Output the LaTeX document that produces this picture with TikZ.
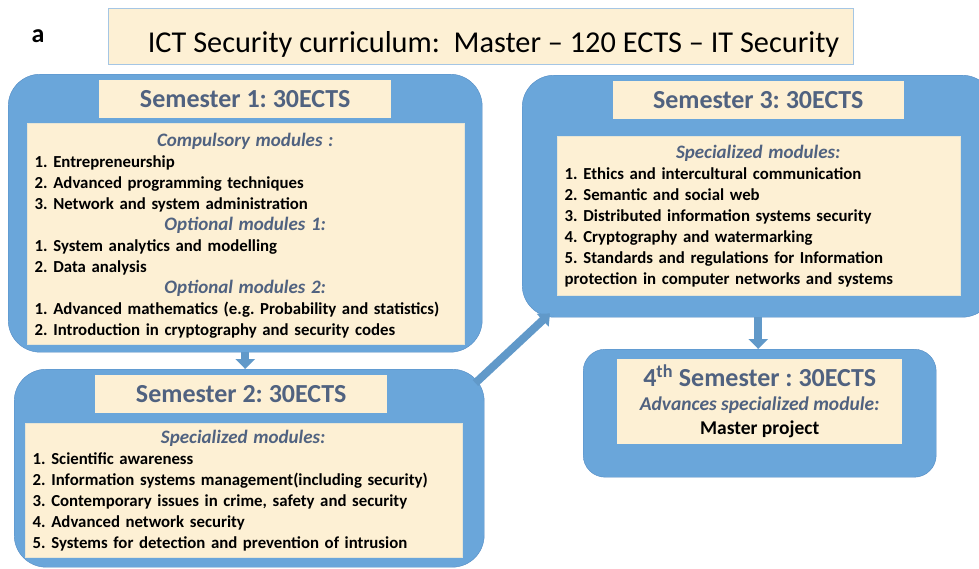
\documentclass[tikz,border=0pt]{standalone}
\usepackage{fontspec}
\setmainfont{Carlito}
\usetikzlibrary{arrows.meta,positioning}

\definecolor{panelblue}{RGB}{106,166,218}
\definecolor{paneledge}{RGB}{84,140,196}
\definecolor{paper}{RGB}{253,240,212}
\definecolor{slate}{RGB}{80,98,128}
\definecolor{titleedge}{RGB}{165,198,228}

\frenchspacing
\hyphenpenalty=10000
\newcommand{\modhead}[1]{\makebox[\linewidth]{\fontsize{19}{21}\selectfont\itshape\color{slate}#1}}

\begin{document}
\begin{tikzpicture}[x=1pt, y=-1pt,
    panel/.style={draw=paneledge, fill=panelblue, rounded corners=32pt, anchor=north west, inner sep=0pt},
    hdr/.style={fill=paper, minimum width=292pt, text height=27pt, text depth=11pt, inner sep=0pt, text=slate, font=\fontsize{26}{30}\selectfont\bfseries},
    body/.style={draw=paper!85!panelblue, fill=paper, inner xsep=8pt, inner ysep=0pt, align=left, font=\fontsize{16.8}{21}\selectfont\bfseries},
    arrow/.style={line width=8pt, panelblue!92!black, -{Triangle[width=19pt,length=10pt]}}
]
\useasboundingbox (0,0) rectangle (979,568);
\clip (0,0) rectangle (979,568);
\fill[white] (0,0) rectangle (979,568);

% title
\node[font=\fontsize{26}{30}\selectfont\bfseries, anchor=base] (tag) at (38,42) {a};
\node[draw=titleedge, fill=paper, minimum width=745pt, inner ysep=0pt, text height=44pt, text depth=12pt, font=\fontsize{30.3}{36}\selectfont] (title) at (480.5,36) {\hspace*{26pt}ICT Security curriculum:\ \ Master -- 120 ECTS -- IT Security};

% semester 1
\node[panel, minimum width=474pt, minimum height=278pt] (s1) at (8,74) {};
\node[hdr, below=6pt of s1.north] (h1) {Semester 1: 30ECTS};
\node[body, below=5pt of h1, text width=421pt, text height=23pt, text depth=198pt] (b1) {%
\modhead{Compulsory modules :}\\
1. Entrepreneurship\\
2. Advanced programming techniques\\
3. Network and system administration\\
\modhead{Optional modules 1:}\\
1. System analytics and modelling\\
2. Data analysis\\
\modhead{Optional modules 2:}\\
1. Advanced mathematics (e.g. Probability and statistics)\\
2. Introduction in cryptography and security codes};

% semester 2
\node[panel, minimum width=470pt, minimum height=198pt] (s2) at (14,369) {};
\node[hdr, below=6pt of s2.north, xshift=-8pt] (h2) {Semester 2: 30ECTS};
\node[body, below=10pt of h2, xshift=2pt, text width=421pt, text height=20pt, text depth=114pt] (b2) {%
\modhead{Specialized modules:}\\
1. Scientific awareness\\
2. Information systems management(including security)\\
3. Contemporary issues in crime, safety and security\\
4. Advanced network security\\
5. Systems for detection and prevention of intrusion};

% semester 3
\node[panel, minimum width=472pt, minimum height=242pt] (s3) at (522,75) {};
\node[hdr, below=6pt of s3.north, minimum width=291pt] (h3) {Semester 3: 30ECTS};
\node[body, below=17pt of h3, text width=387pt, text height=22pt, text depth=137pt] (b3) {%
\modhead{Specialized modules:}\\
1. Ethics and intercultural communication\\
2. Semantic and social web\\
3. Distributed information systems security\\
4. Cryptography and watermarking\\
5. Standards and regulations for Information\\
protection in computer networks and systems};

% semester 4
\node[panel, rounded corners=22pt, minimum width=353pt, minimum height=128pt] (s4) at (583,349) {};
\node[fill=paper, below=10pt of s4.north, minimum width=285pt, minimum height=85pt, align=center, font=\fontsize{19.5}{24}\selectfont\bfseries] (b4) {%
{\fontsize{26}{30}\selectfont\color{slate}4\textsuperscript{th} Semester : 30ECTS}\\
{\itshape\color{slate}Advances specialized module:}\\
Master project};

% links
\draw[arrow] (s1.south) -- (s1.south |- s2.north);
\draw[arrow] (s3.south) -- (s3.south |- s4.north);
\draw[arrow, -{Triangle[width=17pt,length=10pt]}] ([shift={(-9,14)}]s2.north east) -- ([shift={(28,-4)}]s3.south west);
\end{tikzpicture}
\end{document}
